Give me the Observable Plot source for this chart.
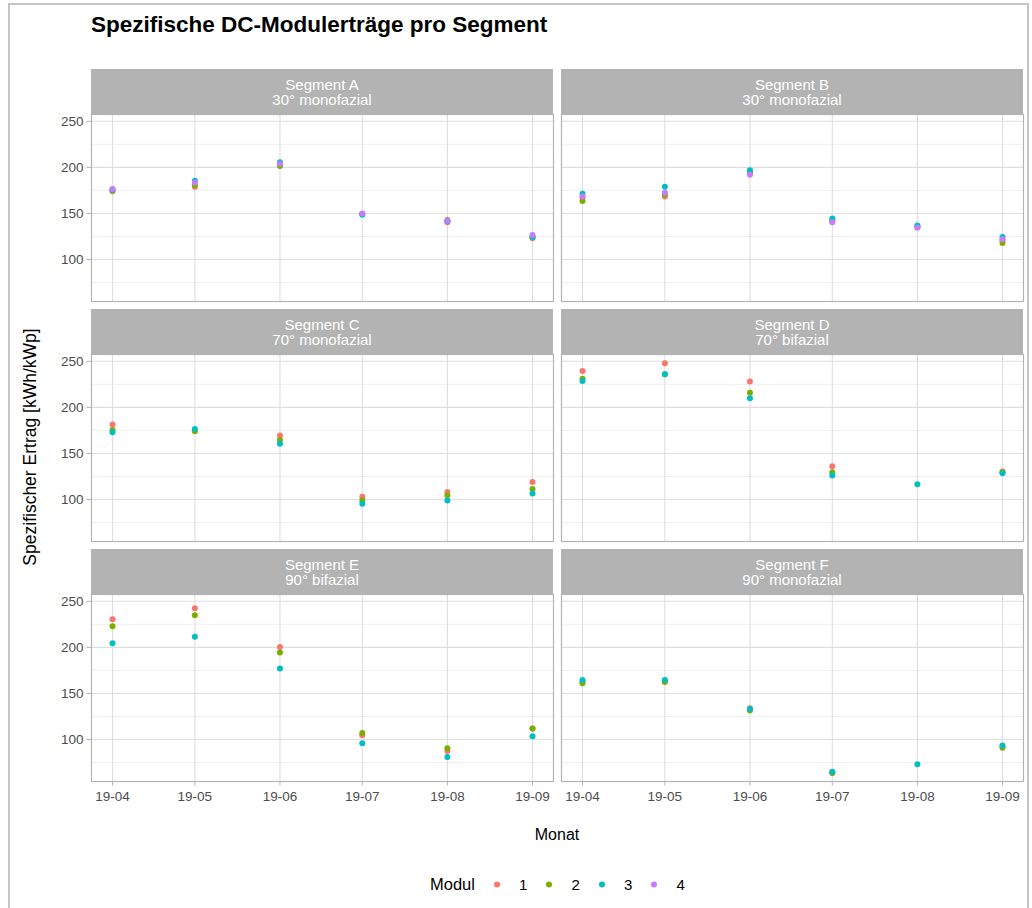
<!DOCTYPE html>
<html>
<head>
<meta charset="utf-8">
<script src="https://cdn.jsdelivr.net/npm/d3@7"></script>
<script src="https://cdn.jsdelivr.net/npm/@observablehq/plot@0.6"></script>
<style>
  html, body { margin: 0; padding: 0; background: #fff; }
  #root { position: relative; width: 1032px; height: 908px; overflow: hidden; font-family: "Liberation Sans", Arial, sans-serif; }
  #border { position: absolute; left: 8px; top: 3px; width: 1021px; height: 960px; border: 2px solid #c6c6c6; box-sizing: border-box; }
  #title { position: absolute; left: 91px; top: 14px; font-size: 22.5px; font-weight: bold; color: #000; white-space: nowrap; line-height: 1; }
  .panel { position: absolute; }
  .strip { position: absolute; width: 462px; height: 45px; background: #b3b3b3; color: #fff; font-size: 15px; text-align: center; line-height: 15px; display: flex; flex-direction: column; justify-content: center; }
  #ytitle { position: absolute; left: 30px; top: 447px; transform: translate(-50%, -50%) rotate(-90deg); font-size: 17.5px; white-space: nowrap; color: #000; }
  #xtitle { position: absolute; left: 557px; top: 835px; transform: translate(-50%, -50%); font-size: 16px; color: #000; }
  #legend { position: absolute; left: 430px; top: 884px; transform: translateY(-50%); display: flex; align-items: center; font-size: 16.5px; color: #000; }
  #legend .lt { margin-right: 19px; }
  #legend .dot { width: 6px; height: 6px; border-radius: 50%; margin-right: 19px; }
  #legend .lab { font-size: 15px; width: 8px; margin-right: 19.5px; text-align: center; }
</style>
</head>
<body>
<div id="root">
  <div id="border"></div>
  <div id="title">Spezifische DC-Modulerträge pro Segment</div>
  <div id="ytitle">Spezifischer Ertrag [kWh/kWp]</div>
  <div id="xtitle">Monat</div>
  <div id="legend"></div>
</div>
<script>
// ---------- data ----------
const months = ["2019-04-01", "2019-05-01", "2019-06-01", "2019-07-01", "2019-08-01", "2019-09-01"];
const modules = ["1", "2", "3", "4"];
const moduleColors = ["#F8766D", "#7CAE00", "#00BFC4", "#C77CFF"];
const segmentNames = ["Segment A", "Segment B", "Segment C", "Segment D", "Segment E", "Segment F"];
const segmentTypes = ["30° monofazial", "30° monofazial", "70° monofazial", "70° bifazial", "90° bifazial", "90° monofazial"];
const yTicks = [100, 150, 200, 250];
const yMinorTicks = [75, 125, 175, 225];
const legendTitle = "Modul";

// values per segment: one array per module (1..4), one value per month
const segA = [
  [174, 179, 202.5, 149.5, 140.5, 123],
  [175, 180.5, 201.5, 149.5, 143, 124.5],
  [176, 185.5, 205.5, 148.5, 141.5, 124.5],
  [176.5, 183.5, 204, 150, 142, 126.5]
];
const segB = [
  [167, 168.5, 194, 142, 135.5, 120.5],
  [163.5, 170.5, 194.5, 142.5, 135.5, 118],
  [171.5, 179, 197, 144.5, 137, 124.5],
  [168.5, 172.5, 192, 140.5, 134.5, 122]
];
const segC = [
  [181.5, 175.5, 169.5, 103, 108, 119],
  [175.5, 174, 164.5, 99, 104.5, 111.5],
  [173, 176.5, 160.5, 95.5, 99, 106.5],
  [null, null, null, null, null, null]
];
const segD = [
  [239.5, 248, 228, 136, null, 130.5],
  [231, 236, 216, 129.5, null, 129.5],
  [228.5, 236, 210, 126, 116.5, 128.5],
  [null, null, null, null, null, null]
];
const segE = [
  [230.5, 242.5, 200.5, 104.5, 87.5, 112],
  [223, 235, 194.5, 107, 90.5, 112],
  [204.5, 211.5, 177, 96, 81, 103.5],
  [null, null, null, null, null, null]
];
const segF = [
  [163, 163.5, 134, 64, null, 92],
  [161, 162.5, 131.5, 63.5, null, 91],
  [164.5, 164.5, 133, 65, 73, 93.5],
  [null, null, null, null, null, null]
];
const segmentValues = [segA, segB, segC, segD, segE, segF];

// ---------- layout ----------
const monthDates = months.map(d => new Date(d + "T00:00:00Z"));
const span = monthDates[5] - monthDates[0];
const xDomain = [new Date(+monthDates[0] - span * 0.05), new Date(+monthDates[5] + span * 0.05)];
const yDomain = [54.4, 257.4];
const panelW = 462, panelH = 187;
const colLeft = [91, 561];
const stripTop = 69, rowStep = 240, stripH = 45;

const root = document.getElementById("root");

segmentValues.forEach((vals, s) => {
  const row = Math.floor(s / 2), col = s % 2;
  const data = [];
  vals.forEach((series, m) => {
    series.forEach((v, i) => {
      if (v != null) data.push({month: monthDates[i], value: v, modul: modules[m]});
    });
  });
  const showY = col === 0, showX = row === 2;
  const mL = showY ? colLeft[0] : 1;
  const mB = showX ? 30 : 1;
  const chart = Plot.plot({
    width: mL + panelW + 1,
    height: panelH + mB,
    marginLeft: mL,
    marginRight: 1,
    marginTop: 0,
    marginBottom: mB,
    style: {fontFamily: "'Liberation Sans', Arial, sans-serif", fontSize: "13.5px", background: "transparent", overflow: "visible"},
    x: {type: "utc", domain: xDomain, axis: null},
    y: {domain: yDomain, axis: null},
    color: {domain: modules, range: moduleColors},
    marks: [
      Plot.gridY(yMinorTicks, {stroke: "#ebebeb", strokeOpacity: 1, strokeWidth: 0.8}),
      Plot.gridY(yTicks, {stroke: "#dedede", strokeOpacity: 1, strokeWidth: 1.1}),
      Plot.gridX(monthDates, {stroke: "#dedede", strokeOpacity: 1, strokeWidth: 1.1}),
      showY ? Plot.axisY(yTicks, {tickSize: 4.5, tickPadding: 3.5, stroke: "#b3b3b3", fill: "#4d4d4d", label: null}) : null,
      showX ? Plot.axisX(monthDates, {tickSize: 4.5, tickPadding: 5, stroke: "#b3b3b3", fill: "#4d4d4d", tickFormat: d3.utcFormat("%y-%m"), label: null}) : null,
      Plot.frame({stroke: "#b3b3b3", strokeWidth: 1.2}),
      Plot.dot(data, {x: "month", y: "value", fill: "modul", r: 3})
    ]
  });
  chart.classList.add("panel");
  chart.style.left = (colLeft[col] - mL) + "px";
  chart.style.top = (stripTop + stripH + row * rowStep) + "px";
  root.appendChild(chart);

  const strip = document.createElement("div");
  strip.className = "strip";
  strip.style.left = colLeft[col] + "px";
  strip.style.top = (stripTop + row * rowStep) + "px";
  strip.innerHTML = `<div>${segmentNames[s]}</div><div>${segmentTypes[s]}</div>`;
  root.appendChild(strip);
});

// legend
const legend = document.getElementById("legend");
const lt = document.createElement("span");
lt.className = "lt";
lt.textContent = legendTitle;
legend.appendChild(lt);
modules.forEach((m, i) => {
  const dot = document.createElement("span");
  dot.className = "dot";
  dot.style.background = moduleColors[i];
  legend.appendChild(dot);
  const lab = document.createElement("span");
  lab.className = "lab";
  lab.textContent = m;
  legend.appendChild(lab);
});
</script>
</body>
</html>
